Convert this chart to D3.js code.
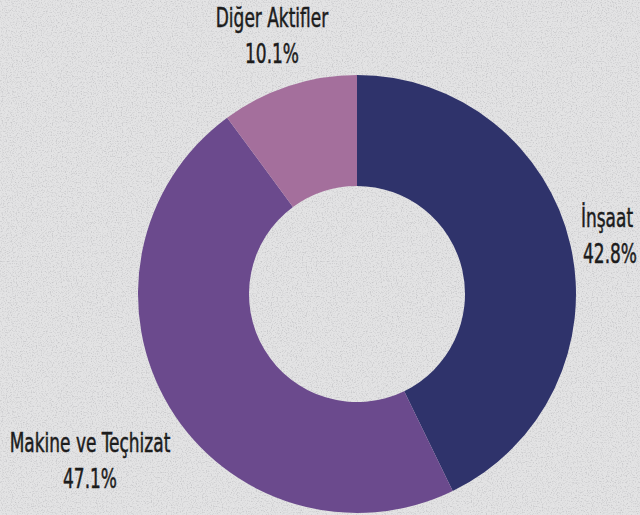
<!DOCTYPE html>
<html>
<head>
<meta charset="utf-8">
<script src="https://cdn.jsdelivr.net/npm/d3@7"></script>
<style>
  body { margin: 0; background: #dedede; }
  svg { display: block; }
</style>
</head>
<body>
<div id="chart"></div>
<script>

// data
var categories = ["İnşaat", "Makine ve Teçhizat", "Diğer Aktifler"];
var values = [42.8, 47.1, 10.1];
var colors = ["#2f336b", "#6b4a8d", "#a46f9c"];

var width = 640, height = 515;

var svg = d3.select("#chart")
    .append("svg")
    .attr("width", width)
    .attr("height", height);

// concrete-like background
var defs = svg.append("defs");
var f = defs.append("filter").attr("id", "grain")
    .attr("x", 0).attr("y", 0).attr("width", "100%").attr("height", "100%");
f.append("feTurbulence")
    .attr("type", "fractalNoise")
    .attr("baseFrequency", 0.8)
    .attr("numOctaves", 2)
    .attr("seed", 7)
    .attr("result", "noise");
f.append("feColorMatrix")
    .attr("type", "matrix")
    .attr("values", "0 0 0 0 0.4  0 0 0 0 0.4  0 0 0 0 0.42  0 0 0 -2.6 1.35");

svg.append("rect")
    .attr("width", width).attr("height", height)
    .attr("fill", "#e3e3e4");
svg.append("rect")
    .attr("width", width).attr("height", height)
    .attr("filter", "url(#grain)")
    .attr("opacity", 0.5);

var cx = 357, cy = 294;
var outerR = 219, innerR = 108;

var pie = d3.pie()
    .sort(null)
    .value(function(d) { return d; });

var arc = d3.arc()
    .innerRadius(innerR)
    .outerRadius(outerR);

var g = svg.append("g")
    .attr("transform", "translate(" + cx + "," + cy + ")");

g.selectAll("path")
    .data(pie(values))
    .enter()
    .append("path")
    .attr("d", arc)
    .attr("fill", function(d, i) { return colors[i]; });

// labels (centre x, baseline of first line)
var labelPos = [
    {x: 607, y: 227},
    {x: 90, y: 452},
    {x: 272, y: 27}
];

var fontFam = "'DejaVu Sans Condensed', 'DejaVu Sans', sans-serif";

function addText(x, y, txt) {
    svg.append("text")
        .attr("transform", "translate(" + x + "," + y + ") scale(0.7,1)")
        .attr("text-anchor", "middle")
        .attr("font-family", fontFam)
        .attr("font-size", 27)
        .attr("fill", "#1c1c1c")
        .attr("stroke", "#1c1c1c")
        .attr("stroke-width", 0.5)
        .text(txt);
}

categories.forEach(function(c, i) {
    var p = labelPos[i];
    addText(p.x, p.y, c);
    addText(p.x + (i == 0 ? 3 : 0), p.y + 36, values[i].toFixed(1) + "%");
});

</script>
</body>
</html>
